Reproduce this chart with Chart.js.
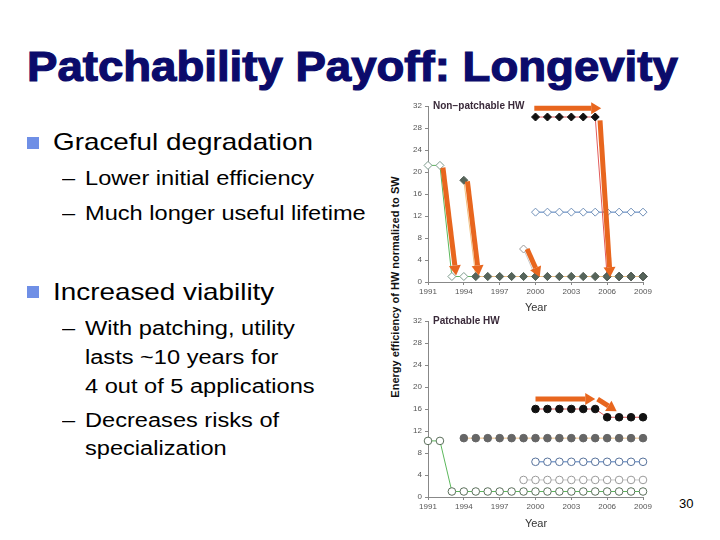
<!DOCTYPE html>
<html>
<head>
<meta charset="utf-8">
<script src="https://cdn.jsdelivr.net/npm/chart.js@4.4.0/dist/chart.umd.min.js"></script>
<style>
body { margin: 0; background: #fff; }
#slide { position: relative; width: 720px; height: 540px; overflow: hidden; font-family: "Liberation Sans", Arial, sans-serif; background: #fff; }
.t { position: absolute; white-space: nowrap; transform-origin: 0 0; line-height: 1; color: #000; }
.title { font-size: 42px; font-weight: bold; color: #0b0b6b; -webkit-text-stroke: 1.2px #0b0b6b; transform: scaleX(1.085); }
.b1 { font-size: 24px; transform: scaleX(1.16); }
.b2 { font-size: 20px; transform: scaleX(1.18); }
.sq { position: absolute; width: 12px; height: 12px; background: #6f8fe6; }
.ylab { position: absolute; font-size: 11px; font-weight: bold; white-space: nowrap; transform: translate(-50%, -50%) rotate(-90deg); color: #111; }
.year { position: absolute; font-size: 11px; color: #333; transform: translateX(-50%); }
canvas { position: absolute; }
</style>
</head>
<body>
<div id="slide">
  <div class="t title" style="left:27px; top:46px;">Patchability Payoff: Longevity</div>

  <div class="sq" style="left:27px; top:137px;"></div>
  <div class="t b1" style="left:53px; top:130px;">Graceful degradation</div>
  <div class="t b2" style="left:62px; top:168px;">–</div>
  <div class="t b2" style="left:85px; top:168px;">Lower initial efficiency</div>
  <div class="t b2" style="left:62px; top:203px;">–</div>
  <div class="t b2" style="left:85px; top:203px;">Much longer useful lifetime</div>

  <div class="sq" style="left:27px; top:286px;"></div>
  <div class="t b1" style="left:53px; top:280px;">Increased viability</div>
  <div class="t b2" style="left:62px; top:318px;">–</div>
  <div class="t b2" style="left:85px; top:318px;">With patching, utility</div>
  <div class="t b2" style="left:85px; top:347px;">lasts ~10 years for</div>
  <div class="t b2" style="left:85px; top:376px;">4 out of 5 applications</div>
  <div class="t b2" style="left:62px; top:410px;">–</div>
  <div class="t b2" style="left:85px; top:410px;">Decreases risks of</div>
  <div class="t b2" style="left:85px; top:438px;">specialization</div>

  <div class="ylab" style="left:395px; top:287px;">Energy efficiency of HW normalized to SW</div>
  <canvas id="topChart" width="262" height="207" style="left:400px; top:95px;"></canvas>
  <canvas id="bottomChart" width="262" height="207" style="left:400px; top:310px;"></canvas>
  <div class="year" style="left:536px; top:301px;">Year</div>
  <div class="year" style="left:536px; top:517px;">Year</div>

  <div class="t" style="left:679px; top:497px; font-size:13px;">30</div>
</div>

<script>
// Years on the x axis
const years = [1991, 1992, 1993, 1994, 1995, 1996, 1997, 1998, 1999, 2000,
               2001, 2002, 2003, 2004, 2005, 2006, 2007, 2008, 2009];
const xTicks = [1991, 1994, 1997, 2000, 2003, 2006, 2009];
const yTicks = [0, 4, 8, 12, 16, 20, 24, 28, 32];

// Non-patchable HW series
const npGreen = [21.2, 21.2, 1, 1, 1, 1, 1, 1, 1, 1, 1, 1, 1, 1, 1, 1, 1, 1, 1];
const npTan   = [null, null, null, 18.5, 1, 1, 1, 1, 1, 1, 1, 1, 1, 1, 1, 1, 1, 1, 1];
const npGray  = [null, null, null, null, null, null, null, null, 6, 1, 1, 1, 1, 1, 1, 1, 1, 1, 1];
const npRed   = [null, null, null, null, null, null, null, null, null, 30, 30, 30, 30, 30, 30, 1, 1, 1, 1];
const npBlue  = [null, null, null, null, null, null, null, null, null, 12.7, 12.7, 12.7, 12.7, 12.7, 12.7, 12.7, 12.7, 12.7, 12.7];

// Patchable HW series
const pGreen = [10.2, 10.2, 1, 1, 1, 1, 1, 1, 1, 1, 1, 1, 1, 1, 1, 1, 1, 1, 1];
const pTan   = [null, null, null, 10.7, 10.7, 10.7, 10.7, 10.7, 10.7, 10.7, 10.7, 10.7, 10.7, 10.7, 10.7, 10.7, 10.7, 10.7, 10.7];
const pBlue  = [null, null, null, null, null, null, null, null, null, 6.4, 6.4, 6.4, 6.4, 6.4, 6.4, 6.4, 6.4, 6.4, 6.4];
const pGray  = [null, null, null, null, null, null, null, null, 3.1, 3.1, 3.1, 3.1, 3.1, 3.1, 3.1, 3.1, 3.1, 3.1, 3.1];
const pRed   = [null, null, null, null, null, null, null, null, null, 16, 16, 16, 16, 16, 16, 14.5, 14.5, 14.5, 14.5];

// Orange annotation arrows, [x1, y1, x2, y2] in data units
const topArrows = [
    [1992.25, 20.8, 1993.35, 1.2],
    [1994.3, 18.3, 1995.25, 1.2],
    [1999.3, 6.0, 2000.35, 0.9],
    [2005.4, 29.4, 2006.25, 0.9],
    [1999.9, 31.6, 2005.5, 31.6]
];
const bottomArrows = [
    [2000.0, 17.8, 2005.0, 17.8],
    [2005.2, 17.8, 2006.8, 15.6]
];

const ORANGE = '#e8661e';

function series(vals, opts) {
    return Object.assign({
        data: years.map((yr, i) => ({ x: yr, y: vals[i] })),
        borderWidth: 1,
        pointBorderWidth: 1,
        pointRadius: 4,
        spanGaps: false,
        clip: false
    }, opts);
}

// Draw the orange arrows through the chart's scales
const arrowPlugin = {
    id: 'arrows',
    afterDatasetsDraw(chart, args, opts) {
        const ctx = chart.ctx;
        const xs = chart.scales.x, ys = chart.scales.y;
        ctx.save();
        ctx.strokeStyle = ORANGE;
        ctx.fillStyle = ORANGE;
        ctx.lineWidth = 5;
        opts.list.forEach(a => {
            const x1 = xs.getPixelForValue(a[0]), y1 = ys.getPixelForValue(a[1]);
            const x2 = xs.getPixelForValue(a[2]), y2 = ys.getPixelForValue(a[3]);
            const ang = Math.atan2(y2 - y1, x2 - x1);
            const head = 10;
            const bx = x2 - head * Math.cos(ang), by = y2 - head * Math.sin(ang);
            ctx.beginPath();
            ctx.moveTo(x1, y1);
            ctx.lineTo(bx, by);
            ctx.stroke();
            ctx.beginPath();
            ctx.moveTo(x2, y2);
            ctx.lineTo(bx + 6 * Math.sin(ang), by - 6 * Math.cos(ang));
            ctx.lineTo(bx - 6 * Math.sin(ang), by + 6 * Math.cos(ang));
            ctx.closePath();
            ctx.fill();
        });
        ctx.restore();
    }
};

// Panel label in the top left of the plot
const labelPlugin = {
    id: 'panelLabel',
    afterDraw(chart, args, opts) {
        const ctx = chart.ctx;
        ctx.save();
        ctx.font = 'bold 10px "Liberation Sans", Arial, sans-serif';
        ctx.fillStyle = '#3a2a3a';
        ctx.textBaseline = 'middle';
        ctx.fillText(opts.text, chart.chartArea.left + 5, chart.chartArea.top);
        ctx.restore();
    }
};

function makeChart(id, datasets, arrows, label) {
    new Chart(document.getElementById(id), {
        type: 'line',
        data: { datasets: datasets },
        options: {
            responsive: false,
            animation: false,
            layout: { padding: { top: 11, right: 19, left: 0, bottom: 0 } },
            plugins: {
                legend: { display: false },
                tooltip: { enabled: false },
                arrows: { list: arrows },
                panelLabel: { text: label }
            },
            scales: {
                x: {
                    type: 'linear',
                    min: 1991,
                    max: 2009,
                    afterBuildTicks: s => { s.ticks = xTicks.map(v => ({ value: v })); },
                    ticks: { font: { size: 8 }, color: '#555', padding: 2, maxRotation: 0, callback: v => String(v) },
                    grid: { drawOnChartArea: false, tickLength: 3, color: '#888' },
                    border: { color: '#888' },
                    afterFit: s => { s.height = 20; }
                },
                y: {
                    min: 0,
                    max: 32,
                    afterBuildTicks: s => { s.ticks = yTicks.map(v => ({ value: v })); },
                    ticks: { font: { size: 8 }, color: '#555', padding: 3 },
                    grid: { drawOnChartArea: false, tickLength: 3, color: '#888' },
                    border: { color: '#888' },
                    afterFit: s => { s.width = 28; }
                }
            }
        },
        plugins: [arrowPlugin, labelPlugin]
    });
}

makeChart('topChart', [
    series(npTan,   { order: 0, borderColor: '#efbf82', pointStyle: 'rectRot', pointBackgroundColor: '#56645a', pointBorderColor: '#56645a' }),
    series(npRed,   { order: 1, borderColor: '#e25a5a', pointStyle: 'rectRot', pointBackgroundColor: '#111', pointBorderColor: '#111' }),
    series(npBlue,  { order: 2, borderColor: '#4d7bbd', pointStyle: 'rectRot', pointBackgroundColor: '#fff', pointBorderColor: '#6f8fb8' }),
    series(npGray,  { order: 3, borderColor: '#c8c8c8', pointStyle: 'rectRot', pointBackgroundColor: '#fff', pointBorderColor: '#999' }),
    series(npGreen, { order: 4, borderColor: '#5cb85c', pointStyle: 'rectRot', pointBackgroundColor: '#fff', pointBorderColor: '#7d9a8c' })
], topArrows, 'Non\u2212patchable HW');

makeChart('bottomChart', [
    series(pRed,   { order: 0, borderColor: '#e25a5a', pointRadius: 3.8, pointBackgroundColor: '#111', pointBorderColor: '#111' }),
    series(pTan,   { order: 1, borderColor: '#efbf82', pointRadius: 3.8, pointBackgroundColor: '#666', pointBorderColor: '#666' }),
    series(pBlue,  { order: 2, borderColor: '#4d7bbd', pointRadius: 3.8, pointBackgroundColor: '#fff', pointBorderColor: '#55709a' }),
    series(pGray,  { order: 3, borderColor: '#c8c8c8', pointRadius: 3.8, pointBackgroundColor: '#fff', pointBorderColor: '#9a9a9a' }),
    series(pGreen, { order: 4, borderColor: '#5cb85c', pointRadius: 3.8, pointBackgroundColor: '#fff', pointBorderColor: '#5a6e5a' })
], bottomArrows, 'Patchable HW');
</script>
</body>
</html>
